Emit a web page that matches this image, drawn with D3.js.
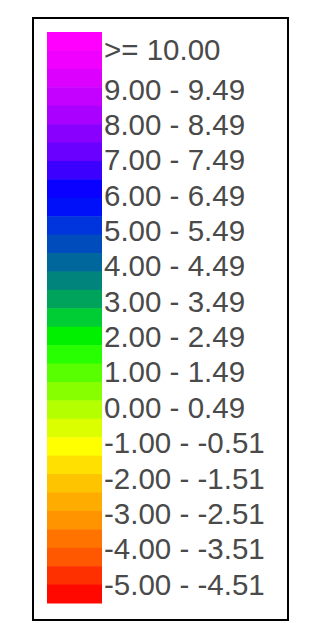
<!DOCTYPE html>
<html>
<head>
<meta charset="utf-8">
<script src="https://cdn.jsdelivr.net/npm/d3@7"></script>
<style>
  body { margin:0; background:#fff; }
  svg { display:block; }
</style>
</head>
<body>
<div id="chart-area"></div>
<script>
// class lower bounds, one per colour band (top to bottom), step 0.5
var classBreaks = [10, 9.5, 9, 8.5, 8, 7.5, 7, 6.5, 6, 5.5, 5, 4.5, 4, 3.5, 3, 2.5,
                   2, 1.5, 1, 0.5, 0, -0.5, -1, -1.5, -2, -2.5, -3, -3.5, -4, -4.5, -5];
var classColors = ["#ff00ff", "#f000ff", "#dc00ff", "#c400ff", "#aa00ff", "#8a00ff",
                   "#6a00ff", "#3c00ff", "#0a00ff", "#0010f8", "#0034dc", "#004cbc",
                   "#00679c", "#00847c", "#00a35c", "#00cc34", "#00f000", "#28ff00",
                   "#58ff00", "#88ff00", "#b4ff00", "#dcff00", "#ffff00", "#ffe000",
                   "#ffc400", "#ffac00", "#ff9400", "#ff7400", "#ff5800", "#ff3000",
                   "#ff0800"];
// labelled classes (every other one)
var labelValues = [10, 9, 8, 7, 6, 5, 4, 3, 2, 1, 0, -1, -2, -3, -4, -5];
var labelTexts = [">= 10.00", "9.00 - 9.49", "8.00 - 8.49", "7.00 - 7.49", "6.00 - 6.49",
                  "5.00 - 5.49", "4.00 - 4.49", "3.00 - 3.49", "2.00 - 2.49", "1.00 - 1.49",
                  "0.00 - 0.49", "-1.00 - -0.51", "-2.00 - -1.51", "-3.00 - -2.51",
                  "-4.00 - -3.51", "-5.00 - -4.51"];

var W = 314, H = 623;

var svg = d3.select("#chart-area")
        .append("svg")
                .attr("width", W)
                .attr("height", H);

// frame
svg.append("rect")
        .attr("x", 33)
        .attr("y", 18)
        .attr("width", 255)
        .attr("height", 602)
        .attr("fill", "#fff")
        .attr("stroke", "#000")
        .attr("stroke-width", 2);

// colour bar
var y = d3.scaleBand()
        .domain(classBreaks)
        .range([32, 603]);

svg.selectAll("rect.band")
        .data(classBreaks)
        .enter()
        .append("rect")
                .attr("class", "band")
                .attr("x", 47)
                .attr("y", d => y(d))
                .attr("width", 55)
                .attr("height", y.bandwidth() + 0.5)
                .attr("fill", (d, i) => classColors[i]);

// label positions
var yLab = d3.scaleLinear()
        .domain([9, -5])
        .range([89, 584]);

svg.selectAll("text.lab")
        .data(labelValues)
        .enter()
        .append("text")
                .attr("class", "lab")
                .attr("x", 104)
                .attr("y", d => d === 10 ? 49 : yLab(d))
                .attr("dy", "0.36em")
                .attr("font-family", "Liberation Sans, Arial, sans-serif")
                .attr("font-size", "29.5px")
                .attr("fill", "#4a4a4a")
                .text((d, i) => labelTexts[i]);
</script>
</body>
</html>
